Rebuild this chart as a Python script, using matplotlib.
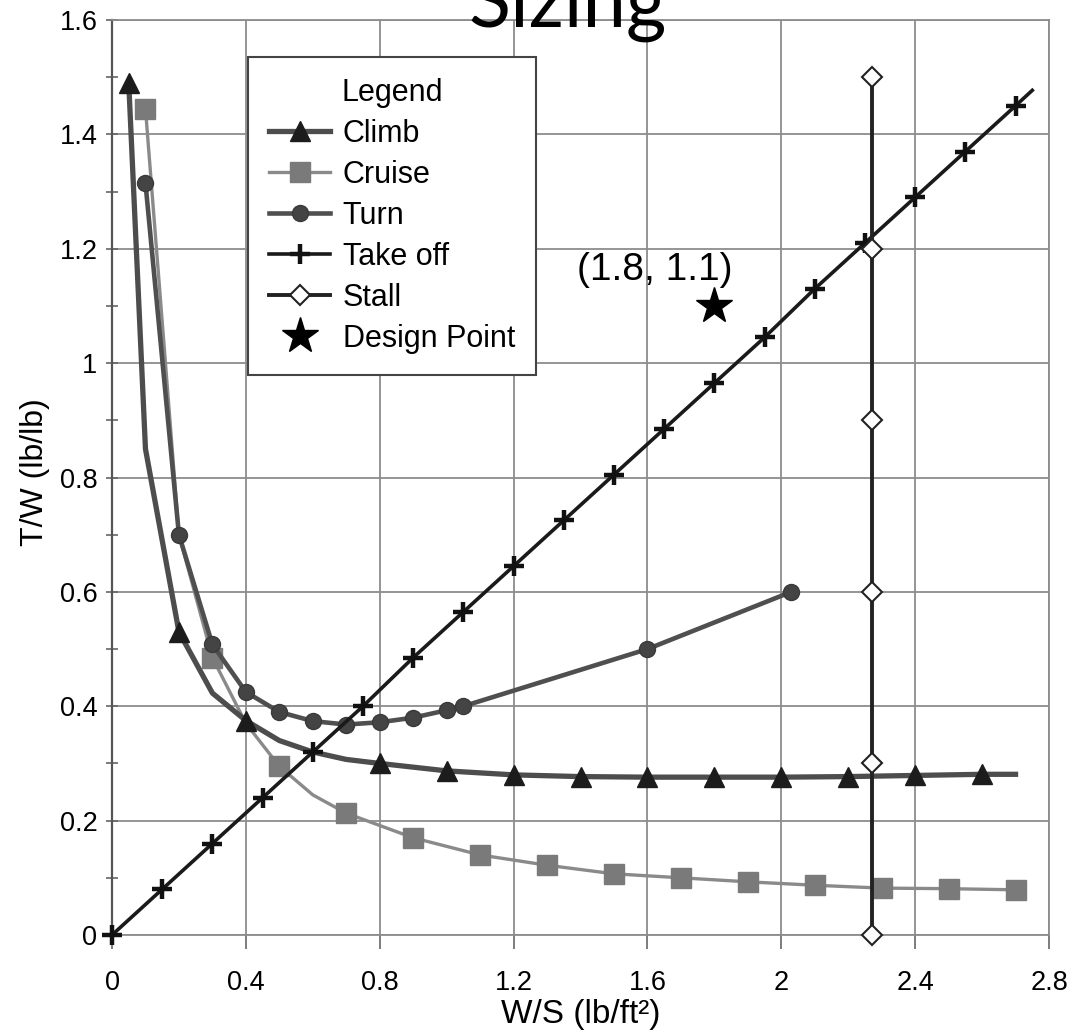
import matplotlib
matplotlib.use("Agg")
import matplotlib.pyplot as plt
from matplotlib.ticker import MultipleLocator

plt.rcParams['font.family'] = ['Liberation Sans', 'DejaVu Sans']

# ---------------- data ----------------
climb_x = [0.05, 0.1, 0.2, 0.3, 0.4, 0.5, 0.6, 0.7, 0.8, 1.0, 1.2, 1.4, 1.6, 1.8, 2.0, 2.2, 2.4, 2.6, 2.7]
climb_y = [1.49, 0.85, 0.53, 0.423, 0.375, 0.34, 0.32, 0.307, 0.30, 0.287, 0.28, 0.277, 0.276, 0.276, 0.276, 0.277, 0.279, 0.281, 0.281]
climb_marks = [0, 2, 4, 8, 9, 10, 11, 12, 13, 14, 15, 16, 17]

cruise_x = [0.1, 0.2, 0.3, 0.4, 0.5, 0.6, 0.7, 0.9, 1.1, 1.3, 1.5, 1.7, 1.9, 2.1, 2.3, 2.5, 2.7]
cruise_y = [1.445, 0.70, 0.485, 0.37, 0.295, 0.245, 0.213, 0.17, 0.14, 0.122, 0.107, 0.100, 0.093, 0.087, 0.082, 0.081, 0.079]
cruise_marks = [0, 2, 4, 6, 7, 8, 9, 10, 11, 12, 13, 14, 15, 16]

turn_x = [0.1, 0.2, 0.3, 0.4, 0.5, 0.6, 0.7, 0.8, 0.9, 1.0, 1.05, 1.6, 2.03]
turn_y = [1.315, 0.70, 0.508, 0.425, 0.39, 0.374, 0.368, 0.372, 0.38, 0.393, 0.40, 0.50, 0.60]

takeoff_x = [0, 0.15, 0.3, 0.45, 0.6, 0.75, 0.9, 1.05, 1.2, 1.35, 1.5, 1.65, 1.8, 1.95, 2.1, 2.25, 2.4, 2.55, 2.7, 2.75]
takeoff_y = [0, 0.08, 0.16, 0.24, 0.32, 0.40, 0.485, 0.565, 0.645, 0.725, 0.805, 0.885, 0.965, 1.045, 1.13, 1.21, 1.29, 1.37, 1.45, 1.477]
takeoff_marks = list(range(19))

stall_x = [2.27, 2.27, 2.27, 2.27, 2.27, 2.27]
stall_y = [0, 0.3, 0.6, 0.9, 1.2, 1.5]

design_x = [1.8]
design_y = [1.1]
design_label = '(1.8, 1.1)'

x_ticks = [0, 0.4, 0.8, 1.2, 1.6, 2, 2.4, 2.8]
x_ticklabels = ['0', '0.4', '0.8', '1.2', '1.6', '2', '2.4', '2.8']
y_ticks = [0, 0.2, 0.4, 0.6, 0.8, 1.0, 1.2, 1.4, 1.6]
y_ticklabels = ['0', '0.2', '0.4', '0.6', '0.8', '1', '1.2', '1.4', '1.6']

# ---------------- figure ----------------
fig = plt.figure(figsize=(10.74, 10.34), dpi=100)
ax = fig.add_axes([112 / 1074, 99 / 1034, 937 / 1074, 915 / 1034])
ax.set_xlim(0, 2.8)
ax.set_ylim(0, 1.6)

ax.set_axisbelow(True)
ax.grid(True, which='major', color='#8c8c8c', lw=1.3)

ax.set_xticks(x_ticks)
ax.set_xticklabels(x_ticklabels)
ax.set_yticks(y_ticks)
ax.set_yticklabels(y_ticklabels)
ax.yaxis.set_minor_locator(MultipleLocator(0.1))

ax.tick_params(axis='x', which='major', direction='out', length=10, width=1.2,
               color='#666666', labelsize=19.5, pad=15)
ax.tick_params(axis='y', which='both', direction='inout', length=9, width=1.2,
               color='#666666', labelsize=19.5, pad=6)

for s in ['top', 'right', 'bottom']:
    ax.spines[s].set_color('#8c8c8c')
    ax.spines[s].set_linewidth(1.3)
ax.spines['left'].set_color('#555555')
ax.spines['left'].set_linewidth(1.6)

l_climb, = ax.plot(climb_x, climb_y, color='#4d4d4d', lw=3.8, marker='^', ms=14,
                   mfc='#1c1c1c', mec='#1c1c1c', markevery=climb_marks, label='Climb', zorder=3)
l_cruise, = ax.plot(cruise_x, cruise_y, color='#8a8a8a', lw=2.4, marker='s', ms=14,
                    mfc='#7a7a7a', mec='#7a7a7a', markevery=cruise_marks, label='Cruise', zorder=2)
l_turn, = ax.plot(turn_x, turn_y, color='#4f4f4f', lw=3.3, marker='o', ms=11.5,
                  mfc='#444444', mec='#3a3a3a', label='Turn', zorder=3)
l_take, = ax.plot(takeoff_x, takeoff_y, color='#1a1a1a', lw=2.6, marker='+', ms=15, mew=3.2,
                  mec='#111111', markevery=takeoff_marks, label='Take off', zorder=4,
                  clip_on=False)
l_stall, = ax.plot(stall_x, stall_y, color='#222222', lw=2.8, marker='D', ms=10,
                   mfc='white', mec='#222222', mew=1.5, label='Stall', zorder=5,
                   clip_on=False)
l_design, = ax.plot(design_x, design_y, ls='none', marker='*', ms=27, color='black',
                    label='Design Point', zorder=6)

ax.text(1.623, 1.163, design_label, fontsize=28, ha='center', va='center', zorder=6)

leg = ax.legend(handles=[l_climb, l_cruise, l_turn, l_take, l_stall, l_design],
                title='Legend', loc='upper left', bbox_to_anchor=(0.145, 0.96),
                fontsize=22, title_fontsize=22, numpoints=1, handlelength=2.0,
                handletextpad=0.4, labelspacing=0.36, borderpad=0.7,
                fancybox=False, framealpha=1, edgecolor='#444444', borderaxespad=0)
leg.get_frame().set_linewidth(1.5)
leg.set_zorder(10)

ax.set_xlabel('W/S (lb/ft²)', fontsize=24)
ax.xaxis.set_label_coords(0.5, -0.07)
ax.set_ylabel('T/W (lb/lb)', fontsize=23)
ax.yaxis.set_label_coords(-0.066, 0.506)

fig.text(568 / 1074, 1 - 27 / 1034, 'Sizing', fontsize=56, family='Lato',
         ha='center', va='baseline', color='black')

fig.savefig('out.png', dpi=100, facecolor='white')
